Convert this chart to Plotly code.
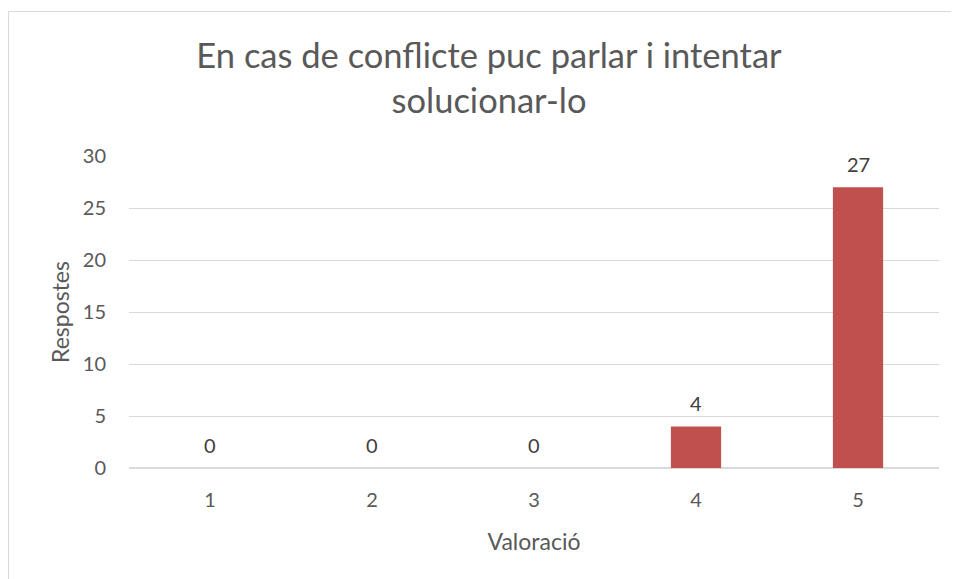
import plotly.graph_objects as go

categories = ["1", "2", "3", "4", "5"]
values = [0, 0, 0, 4, 27]
y_ticks = [0, 5, 10, 15, 20, 25, 30]

# page has an 8px body margin, so the figure is sized to fill the rest
W, H = 951, 571
L, R, T, B = 121, 20, 148, 111
pw = W - L - R
ph = H - T - B

font = "Lato, 'Open Sans', sans-serif"
grey = "#595959"

fig = go.Figure(go.Bar(
    x=categories, y=values,
    marker=dict(color="#C0504D", line=dict(width=0)),
    width=0.31,
))

for i, v in enumerate(values):
    fig.add_annotation(
        x=i, y=v, text=str(v), showarrow=False,
        yanchor="middle", yshift=23,
        font=dict(size=20, color="#404040", family=font),
    )

fig.update_layout(
    width=W, height=H,
    margin=dict(l=L, r=R, t=T, b=B),
    paper_bgcolor="white", plot_bgcolor="white",
    font=dict(family=font, color=grey),
    showlegend=False,
    title=dict(
        text="En cas de conflicte puc parlar i intentar<br>solucionar-lo",
        x=(481 - L) / pw, xref="paper", xanchor="center",
        y=1 - 60 / H, yref="container", yanchor="middle",
        font=dict(size=34.5, color=grey, family=font),
    ),
    xaxis=dict(
        type="category", range=[-0.5, len(categories) - 0.5],
        showgrid=False, zeroline=False, showline=False,
        ticks="", tickfont=dict(size=20, color=grey),
        ticklabelstandoff=18,
        title=dict(text="Valoració", font=dict(size=23, color=grey), standoff=23),
    ),
    yaxis=dict(
        range=[0, 30], tickvals=y_ticks,
        showgrid=True, gridcolor="#D9D9D9", gridwidth=1,
        zeroline=True, zerolinecolor="#D9D9D9", zerolinewidth=1.5,
        ticks="", tickfont=dict(size=20, color=grey),
        ticklabelstandoff=22,
        title=dict(text="Respostes", font=dict(size=23, color=grey), standoff=6),
    ),
    shapes=[dict(
        type="rect", xref="paper", yref="paper",
        x0=(0.5 - L) / pw, x1=(W + 40 - L) / pw,
        y0=-(B + 40) / ph,
        y1=(H - B - 3.5) / ph,
        line=dict(color="#D9D9D9", width=1), fillcolor="rgba(0,0,0,0)",
        layer="below",
    )],
)

fig.write_html("out.html")
